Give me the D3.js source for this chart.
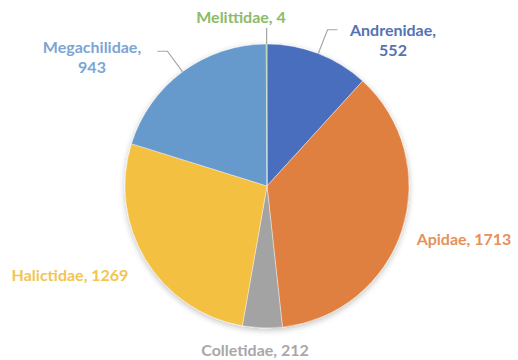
<!DOCTYPE html>
<html>
<head>
<meta charset="utf-8">
<script src="https://cdn.jsdelivr.net/npm/d3@7"></script>
<style>
  body { margin: 0; background: #fff; }
  svg text { font-family: Lato, "Open Sans", sans-serif; font-weight: bold; font-size: 16px; }
</style>
</head>
<body>
<svg id="chart" width="518" height="360"></svg>
<script>
// data, clockwise from 12 o'clock
var families = ["Andrenidae", "Apidae", "Colletidae", "Halictidae", "Megachilidae", "Melittidae"];
var counts = [552, 1713, 212, 1269, 943, 4];
var sliceColors = ["#4a6ebe", "#e0803f", "#a3a3a3", "#f4c042", "#6699cc", "#70ad47"];
var labelColors = ["#5472b4", "#e6915a", "#a8a8a8", "#f2c552", "#7ba5d4", "#8cbb69"];

// layout: label anchors relative to pie centre, and whether a leader line is drawn
var labelLayout = [
  { x: 126, y: -157, lines: 2, leader: true },
  { x: 197, y: 52, lines: 1, leader: false },
  { x: -12, y: 163, lines: 1, leader: false },
  { x: -197, y: 88, lines: 1, leader: false },
  { x: -175, y: -140, lines: 2, leader: true },
  { x: -26, y: -170, lines: 1, leader: true }
];

var cx = 267, cy = 186, radius = 142;

var svg = d3.select("#chart");

var defs = svg.append("defs");
var f = defs.append("filter").attr("id", "shadow")
  .attr("x", "-20%").attr("y", "-20%").attr("width", "140%").attr("height", "140%");
f.append("feGaussianBlur").attr("in", "SourceAlpha").attr("stdDeviation", 3);
f.append("feOffset").attr("dx", 0).attr("dy", 2).attr("result", "blur");
f.append("feComponentTransfer").append("feFuncA").attr("type", "linear").attr("slope", 0.25);
var merge = f.append("feMerge");
merge.append("feMergeNode");
merge.append("feMergeNode").attr("in", "SourceGraphic");

var g = svg.append("g").attr("transform", "translate(" + cx + "," + cy + ")");

var dataset = families.map(function (d, i) {
  return { name: d, value: counts[i], i: i };
});

var pie = d3.pie().sort(null).value(function (d) { return d.value; });
var arc = d3.arc().innerRadius(0).outerRadius(radius);
var arcs = pie(dataset);

g.append("g").attr("filter", "url(#shadow)")
  .selectAll("path")
  .data(arcs)
  .enter().append("path")
  .attr("d", arc)
  .attr("fill", function (d) { return sliceColors[d.data.i]; })
  .attr("stroke", "#fff")
  .attr("stroke-width", 0.4);

// leader lines
function polar(a, r) {
  return [r * Math.sin(a), -r * Math.cos(a)];
}
arcs.forEach(function (d) {
  var lay = labelLayout[d.data.i];
  if (!lay.leader) return;
  var mid = (d.startAngle + d.endAngle) / 2;
  var p0 = polar(mid, radius);
  var pts;
  if (d.data.i === 5) {
    pts = [p0, [p0[0], lay.y + 12]];
  } else {
    var p1 = polar(mid, radius * 1.18);
    var side = p1[0] > 0 ? 1 : -1;
    pts = [p0, p1, [p1[0] + side * 10, p1[1]]];
  }
  g.append("path")
    .attr("d", d3.line()(pts))
    .attr("fill", "none")
    .attr("stroke", "#a6a6a6")
    .attr("stroke-width", 1.2);
});

// labels
arcs.forEach(function (d) {
  var lay = labelLayout[d.data.i];
  var t = g.append("text")
    .attr("text-anchor", "middle")
    .attr("fill", labelColors[d.data.i])
    .attr("x", lay.x)
    .attr("y", lay.y)
    .attr("dominant-baseline", "central");
  if (lay.lines === 2) {
    t.append("tspan").attr("x", lay.x).attr("dy", 0).text(d.data.name + ",");
    t.append("tspan").attr("x", lay.x).attr("dy", 20).text(d.data.value);
  } else {
    t.text(d.data.name + ", " + d.data.value);
  }
});
</script>
</body>
</html>
